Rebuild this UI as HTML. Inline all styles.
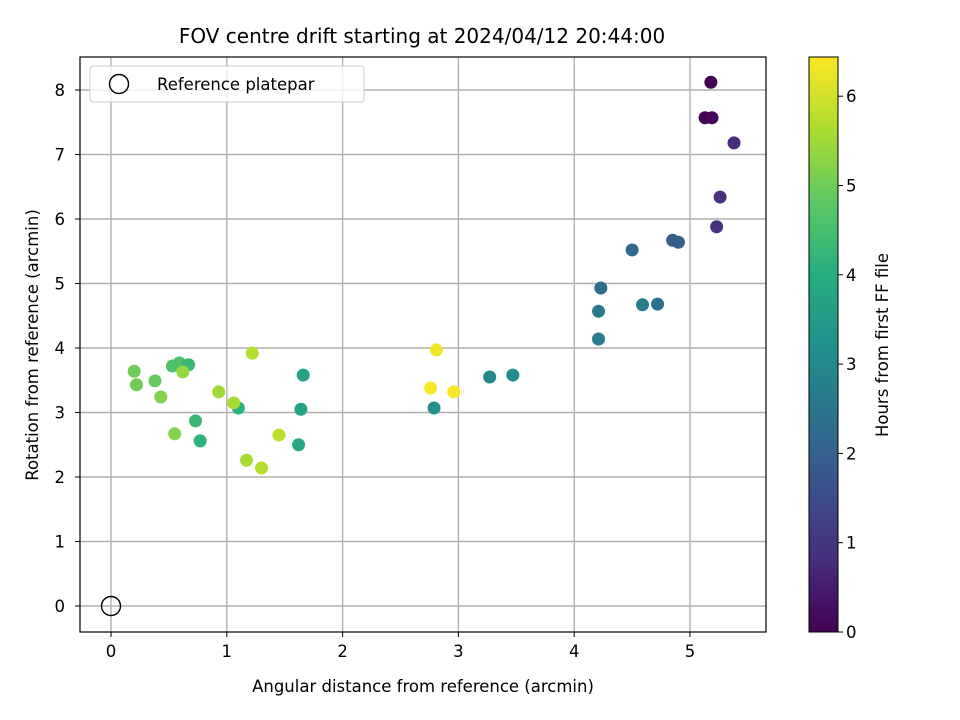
<!DOCTYPE html>
<html><head><meta charset="utf-8"><style>
html,body{margin:0;padding:0;background:#fff;}
svg{display:block;font-family:"DejaVu Sans","Liberation Sans",sans-serif;}
</style></head><body>
<svg id="chart" width="960" height="720" viewBox="0 0 960 720">
<defs>
<linearGradient id="viridis" x1="0" y1="1" x2="0" y2="0">
<stop offset="0" stop-color="#440154"/><stop offset="0.125" stop-color="#472d7b"/>
<stop offset="0.25" stop-color="#3b528b"/><stop offset="0.375" stop-color="#2c728e"/>
<stop offset="0.5" stop-color="#21918c"/><stop offset="0.625" stop-color="#28ae80"/>
<stop offset="0.75" stop-color="#5ec962"/><stop offset="0.875" stop-color="#addc30"/>
<stop offset="1" stop-color="#fde725"/>
</linearGradient>
</defs>
<text x="422" y="43" text-anchor="middle" font-size="20">FOV centre drift starting at 2024/04/12 20:44:00</text>
<g id="grid"></g>
<g id="points"></g>
<rect x="80" y="57" width="686" height="575" fill="none" stroke="#000" stroke-width="1.2"/>
<g id="ticks"></g>
<text x="423" y="692" text-anchor="middle" font-size="16.5">Angular distance from reference (arcmin)</text>
<text transform="translate(38,345) rotate(-90)" text-anchor="middle" font-size="16.5">Rotation from reference (arcmin)</text>
<g>
<rect x="90" y="66" width="274" height="36" rx="3" fill="#fff" fill-opacity="0.8" stroke="#ccc"/>
<circle cx="119" cy="84" r="9.5" fill="none" stroke="#000" stroke-width="1.4"/>
<text x="157" y="90" font-size="16.5">Reference platepar</text>
</g>
<rect x="809" y="57" width="29" height="575" fill="url(#viridis)" stroke="#000" stroke-width="1"/>
<g id="cbticks"></g>
<text transform="translate(888,345) rotate(-90)" text-anchor="middle" font-size="16.5">Hours from first FF file</text>
</svg>
<script>
const xs=[5.18,5.13,5.19,5.38,5.26,5.23,4.85,4.90,4.50,4.23,4.21,4.72,4.59,4.21,3.47,3.27,2.79,2.81,2.76,2.96,0.20,0.22,0.38,0.43,0.53,0.59,0.67,0.62,0.93,1.22,1.10,1.06,1.66,1.64,0.73,0.55,0.77,1.45,1.62,1.17,1.30];
const ys=[8.12,7.57,7.57,7.18,6.34,5.88,5.67,5.64,5.52,4.93,4.57,4.68,4.67,4.14,3.58,3.55,3.07,3.97,3.38,3.32,3.64,3.43,3.49,3.24,3.72,3.77,3.74,3.63,3.32,3.92,3.07,3.15,3.58,3.05,2.87,2.67,2.56,2.65,2.50,2.26,2.14];
const hours=[0.0,0.05,0.1,0.8,0.9,0.9,1.9,1.9,2.2,2.3,2.6,2.4,2.7,2.7,3.1,3.0,3.2,6.3,6.4,6.4,5.0,5.0,4.9,5.2,4.6,4.6,4.3,5.4,5.5,5.7,4.1,5.6,3.7,3.7,4.3,5.2,4.1,5.8,3.8,5.6,5.7];
const xTicks=[0,1,2,3,4,5];
const yTicks=[0,1,2,3,4,5,6,7,8];
const cTicks=[0,1,2,3,4,5,6];
const NS='http://www.w3.org/2000/svg';
const X=v=>111+v*115.8, Y=v=>606-v*64.5, C=v=>632-v*89.3, HMAX=6.44;
const vir=['#440154','#472d7b','#3b528b','#2c728e','#21918c','#28ae80','#5ec962','#addc30','#fde725'];
function hx(c){return [1,3,5].map(i=>parseInt(c.substr(i,2),16));}
function color(h){let t=Math.max(0,Math.min(1,h/HMAX))*8,i=Math.min(7,Math.floor(t)),f=t-i,a=hx(vir[i]),b=hx(vir[i+1]);return 'rgb('+a.map((v,k)=>Math.round(v+(b[k]-v)*f)).join(',')+')';}
function mk(tag,attrs,parent){const e=document.createElementNS(NS,tag);for(const k in attrs)e.setAttribute(k,attrs[k]);parent.appendChild(e);return e;}
const grid=document.getElementById('grid'),ticks=document.getElementById('ticks'),pts=document.getElementById('points'),cb=document.getElementById('cbticks');
xTicks.forEach(v=>{
 const l=mk('line',{x1:X(v),x2:X(v),y1:57,y2:632,stroke:'#b0b0b0','stroke-width':1.4},grid);
 
 
 const t=mk('line',{x1:X(v),x2:X(v),y1:632,y2:637,stroke:'#000'},ticks);
 
 
 const s=mk('text',{x:X(v),y:657,'text-anchor':'middle','font-size':16.5},ticks);s.textContent=v;
 
 
});
yTicks.forEach(v=>{
 const l=mk('line',{x1:80,x2:766,y1:Y(v),y2:Y(v),stroke:'#b0b0b0','stroke-width':1.4},grid);
 
 
 const t=mk('line',{x1:75,x2:80,y1:Y(v),y2:Y(v),stroke:'#000'},ticks);
 
 
 const s=mk('text',{x:65,y:Y(v)+6,'text-anchor':'end','font-size':16.5},ticks);s.textContent=v;
 
 
});
xs.forEach((x,i)=>{
 const c=mk('circle',{cx:X(x),cy:Y(ys[i]),r:6.5,fill:color(hours[i])},pts);
 
 
});
const ref=mk('circle',{cx:X(0),cy:Y(0),r:9.5,fill:'none',stroke:'#000','stroke-width':1.4},pts);


cTicks.forEach(v=>{
 const t=mk('line',{x1:838,x2:843,y1:C(v),y2:C(v),stroke:'#000'},cb);
 
 
 const s=mk('text',{x:846,y:C(v)+6,'font-size':16.5},cb);s.textContent=v;
 
 
});
</script>
</body></html>
